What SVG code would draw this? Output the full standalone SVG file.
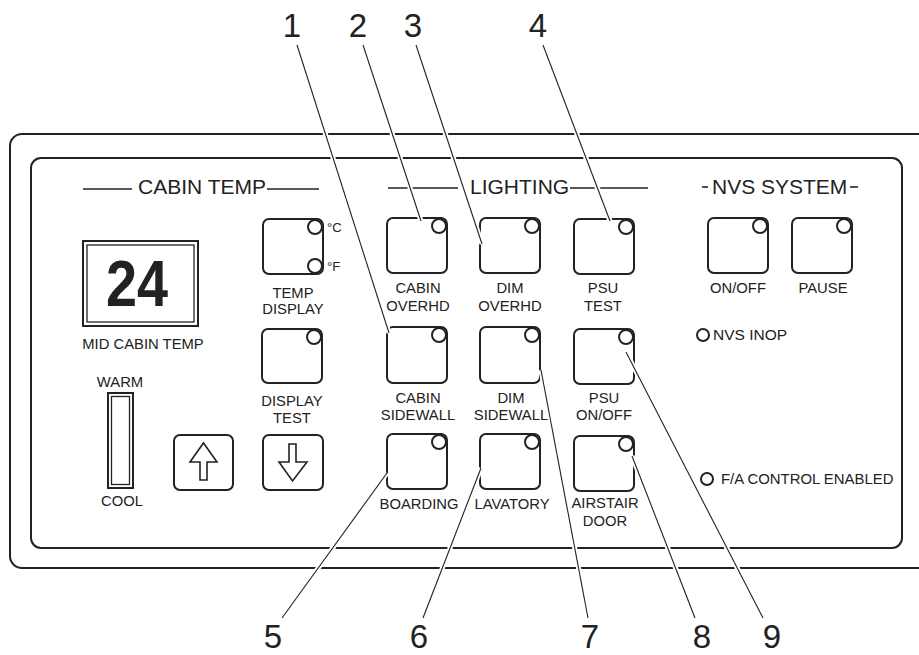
<svg xmlns="http://www.w3.org/2000/svg" width="919" height="655" viewBox="0 0 919 655">
<style>
.pan{fill:none;stroke:#222;stroke-width:2}
.btn{fill:#fff;stroke:#222;stroke-width:2}
.led{fill:#fff;stroke:#222;stroke-width:2}
.hl{stroke:#222;stroke-width:1.6;fill:none}
text{font-family:"Liberation Sans",Arial,sans-serif;fill:#222}
.lbl{font-size:14.8px;text-anchor:middle}
.hdr{font-size:21px}
.num{font-size:33px;text-anchor:middle}
.small{font-size:13px}
.ind{font-size:15.5px}
.ind2{font-size:14.9px}
.halo{stroke:#fff;stroke-width:5;fill:none}
.lead{stroke:#222;stroke-width:1.1;fill:none}
.arr{fill:#fff;stroke:#222;stroke-width:1.6;stroke-linejoin:miter}
</style>
<rect x="0" y="0" width="919" height="655" fill="#fff"/>
<g id="panel">
<rect class="pan" x="10" y="134" width="940" height="434" rx="12"/>
<rect class="pan" x="31" y="158" width="871" height="390" rx="10"/>
</g>
<g id="headers">
<line class="hl" x1="83" y1="189" x2="132" y2="189"/>
<text class="hdr" x="138" y="194">CABIN TEMP</text>
<line class="hl" x1="267" y1="189" x2="319" y2="189"/>
<line class="hl" x1="388" y1="188" x2="458" y2="188"/>
<text class="hdr" x="470" y="194">LIGHTING</text>
<line class="hl" x1="570" y1="188" x2="648" y2="188"/>
<line class="hl" x1="702" y1="187" x2="708" y2="187"/>
<text class="hdr" x="712" y="194">NVS SYSTEM</text>
<line class="hl" x1="850" y1="187" x2="858" y2="187"/>
</g>
<g id="display">
<rect x="83" y="241" width="115" height="85" fill="#fff" stroke="#222" stroke-width="2"/>
<rect x="87" y="245" width="107" height="77" fill="none" stroke="#222" stroke-width="1.3"/>
<text x="106" y="306" font-family="DejaVu Sans Mono, monospace" font-weight="bold" font-size="64" textLength="62" lengthAdjust="spacingAndGlyphs">24</text>
<text class="lbl" x="143" y="349">MID CABIN TEMP</text>
</g>
<g id="slider">
<text class="lbl" x="120" y="387">WARM</text>
<rect x="108" y="393" width="25" height="95" fill="#fff" stroke="#222" stroke-width="2"/>
<rect x="111.5" y="396.5" width="18" height="88" fill="none" stroke="#222" stroke-width="1.3"/>
<text class="lbl" x="122" y="506">COOL</text>
</g>
<g id="temp-display">
<rect class="btn" x="263" y="219" width="60" height="55" rx="6"/>
<circle class="led" cx="315" cy="227" r="7"/>
<circle class="led" cx="315" cy="266" r="7"/>
<text class="small" x="327" y="232">°C</text>
<text class="small" x="327" y="271">°F</text>
<text class="lbl" x="293" y="298">TEMP</text>
<text class="lbl" x="293" y="314">DISPLAY</text>
</g>
<g id="display-test">
<rect class="btn" x="262" y="329" width="60" height="54" rx="6"/>
<circle class="led" cx="314" cy="337" r="7"/>
<text class="lbl" x="292" y="406">DISPLAY</text>
<text class="lbl" x="292" y="423">TEST</text>
</g>
<g id="temp-up">
<rect class="btn" x="174" y="435" width="59" height="55" rx="6"/>
<polygon class="arr" points="203.5,443 217,462 207,462 207,480 200,480 200,462 190,462"/>
</g>
<g id="temp-down">
<rect class="btn" x="263" y="435" width="60" height="55" rx="6"/>
<polygon class="arr" points="289,444 296,444 296,462 307,462 292.5,481 279,462 289,462"/>
</g>
<g id="cabin-overhd">
<rect class="btn" x="387" y="218" width="60" height="55" rx="6"/>
<circle class="led" cx="439" cy="226" r="7"/>
<text class="lbl" x="418" y="293">CABIN</text>
<text class="lbl" x="418" y="311">OVERHD</text>
</g>
<g id="dim-overhd">
<rect class="btn" x="480" y="218" width="60" height="55" rx="6"/>
<circle class="led" cx="532" cy="226" r="7"/>
<text class="lbl" x="510" y="293">DIM</text>
<text class="lbl" x="510" y="311">OVERHD</text>
</g>
<g id="psu-test">
<rect class="btn" x="574" y="219" width="60" height="55" rx="6"/>
<circle class="led" cx="626" cy="227" r="7"/>
<text class="lbl" x="603" y="293">PSU</text>
<text class="lbl" x="603" y="311">TEST</text>
</g>
<g id="cabin-sidewall">
<rect class="btn" x="387" y="327" width="60" height="56" rx="6"/>
<circle class="led" cx="439" cy="335" r="7"/>
<text class="lbl" x="418" y="403">CABIN</text>
<text class="lbl" x="418" y="420">SIDEWALL</text>
</g>
<g id="dim-sidewall">
<rect class="btn" x="480" y="327" width="60" height="56" rx="6"/>
<circle class="led" cx="532" cy="335" r="7"/>
<text class="lbl" x="511" y="403">DIM</text>
<text class="lbl" x="511" y="420">SIDEWALL</text>
</g>
<g id="psu-onoff">
<rect class="btn" x="574" y="329" width="60" height="55" rx="6"/>
<circle class="led" cx="626" cy="337" r="7"/>
<text class="lbl" x="604" y="403">PSU</text>
<text class="lbl" x="604" y="420">ON/OFF</text>
</g>
<g id="boarding">
<rect class="btn" x="387" y="434" width="60" height="55" rx="6"/>
<circle class="led" cx="439" cy="442" r="7"/>
<text class="lbl" x="419" y="509">BOARDING</text>
</g>
<g id="lavatory">
<rect class="btn" x="480" y="434" width="60" height="55" rx="6"/>
<circle class="led" cx="532" cy="442" r="7"/>
<text class="lbl" x="512" y="509">LAVATORY</text>
</g>
<g id="airstair-door">
<rect class="btn" x="574" y="436" width="60" height="55" rx="6"/>
<circle class="led" cx="626" cy="444" r="7"/>
<text class="lbl" x="605" y="508">AIRSTAIR</text>
<text class="lbl" x="605" y="526">DOOR</text>
</g>
<g id="nvs-onoff">
<rect class="btn" x="708" y="218" width="60" height="55" rx="6"/>
<circle class="led" cx="760" cy="226" r="7"/>
<text class="lbl" x="738" y="293">ON/OFF</text>
</g>
<g id="nvs-pause">
<rect class="btn" x="792" y="218" width="60" height="55" rx="6"/>
<circle class="led" cx="844" cy="226" r="7"/>
<text class="lbl" x="823" y="293">PAUSE</text>
</g>
<g id="nvs-inop">
<circle class="led" cx="703" cy="335" r="6"/>
<text class="ind" x="713" y="340">NVS INOP</text>
</g>
<g id="fa-control">
<circle class="led" cx="707" cy="479" r="6"/>
<text class="ind2" x="721" y="484">F/A CONTROL ENABLED</text>
</g>
<g id="connectors">
<g class="halo">
<line x1="297" y1="45" x2="389" y2="333"/>
<line x1="363" y1="45" x2="421" y2="221"/>
<line x1="416" y1="45" x2="482" y2="244"/>
<line x1="543" y1="45" x2="610" y2="221"/>
<line x1="282" y1="618" x2="387" y2="473"/>
<line x1="423" y1="618" x2="481" y2="468"/>
<line x1="588" y1="618" x2="541" y2="370"/>
<line x1="695" y1="618" x2="632" y2="456"/>
<line x1="763" y1="618" x2="626" y2="352"/>
</g>
<g class="lead">
<line x1="297" y1="45" x2="389" y2="333"/>
<line x1="363" y1="45" x2="421" y2="221"/>
<line x1="416" y1="45" x2="482" y2="244"/>
<line x1="543" y1="45" x2="610" y2="221"/>
<line x1="282" y1="618" x2="387" y2="473"/>
<line x1="423" y1="618" x2="481" y2="468"/>
<line x1="588" y1="618" x2="541" y2="370"/>
<line x1="695" y1="618" x2="632" y2="456"/>
<line x1="763" y1="618" x2="626" y2="352"/>
</g>
</g>
<g id="callouts">
<text class="num" x="292" y="37">1</text>
<text class="num" x="358" y="37">2</text>
<text class="num" x="413" y="37">3</text>
<text class="num" x="538" y="37">4</text>
<text class="num" x="273" y="648">5</text>
<text class="num" x="419" y="648">6</text>
<text class="num" x="590" y="648">7</text>
<text class="num" x="702" y="648">8</text>
<text class="num" x="772" y="648">9</text>
</g>
</svg>
